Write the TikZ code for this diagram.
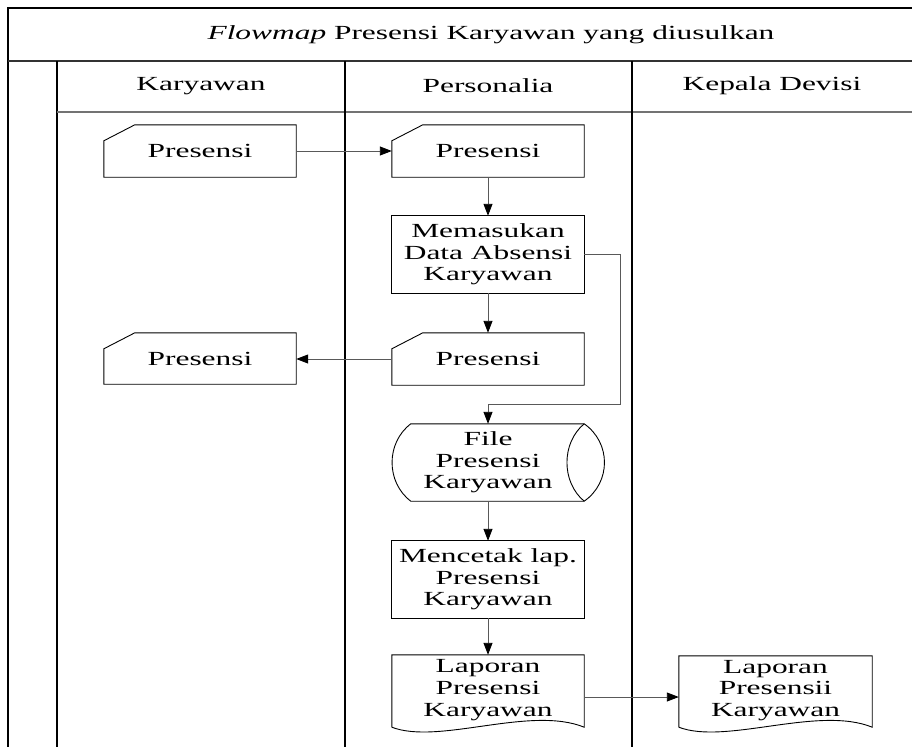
\documentclass[tikz,border=0pt]{standalone}
\usepackage{fontspec}
\setmainfont{Liberation Serif}[FakeStretch=1.57]
\usetikzlibrary{arrows.meta,calc}
\newcommand\lanefont{\fontsize{20}{21.7}\selectfont}
\begin{document}
\begin{tikzpicture}[x=1pt,y=-1pt,
  frame/.style={draw=black, line width=1.1pt},
  shp/.style={inner sep=0pt, minimum width=192pt, minimum height=52pt,
    align=center, font=\lanefont},
  outline/.style={draw=black, line width=0.9pt},
  conn/.style={draw=black!65, line width=0.9pt,
    -{Triangle[length=12pt,width=9pt,fill=black,color=black]}},
  lbl/.style={font=\lanefont, inner sep=0pt}]
\useasboundingbox (0,0) rectangle (912,747);

% swimlane frame
\draw[frame] (912,8) -- (8,8) -- (8,747);
\draw[draw=black!80, line width=2pt] (8,61) -- (912,61);
\draw[frame] (57,61) -- (57,747);
\draw[draw=black!55, line width=1.4pt] (57,112) -- (912,112);
\draw[frame] (345,61) -- (345,747);
\draw[frame] (632,61) -- (632,747);

\node[lbl] (title) at (491,35) {\textit{Flowmap} Presensi Karyawan yang diusulkan};
\node[lbl] (h1) at (201,86) {Karyawan};
\node[lbl] (h2) at (488,86) {Personalia};
\node[lbl] (h3) at (772,86) {Kepala Devisi};

% flow nodes
\node[shp] (k1) at (200,151) {Presensi};
\node[shp] (p1) at (488,151) {Presensi};
\node[shp, minimum height=77pt] (p2) at (488,254.5) {Memasukan\\Data Absensi\\Karyawan};
\node[shp, minimum height=51pt] (k2) at (200,358.5) {Presensi};
\node[shp] (p3) at (488,359) {Presensi};
\node[shp, minimum height=77pt] (disk) at (488,462.5) {File\\Presensi\\Karyawan};
\node[shp, minimum height=77pt] (p4) at (488,579.5) {Mencetak lap.\\Presensi\\Karyawan};
\node[shp, minimum height=70pt] (p5) at (488,690) {Laporan\\Presensi\\Karyawan};
\node[shp, minimum width=193pt, minimum height=69pt] (kd) at (775.5,690.5) {Laporan\\Presensii\\Karyawan};

% manual input outlines
\foreach \n in {k1,p1,k2,p3}{
  \draw[outline] (\n.south west) -- ($(\n.north west)+(0,16)$)
    -- ($(\n.north west)+(31,0)$) -- (\n.north east) -- (\n.south east) -- cycle;
}
% process outlines
\draw[outline] (p2.south west) rectangle (p2.north east);
\draw[outline] (p4.south west) rectangle (p4.north east);

% stored data outline
\draw[outline] ($(disk.north west)+(19,0)$) -- (disk.north east)
  .. controls ($(disk.north east)+(27,19)$) and ($(disk.south east)+(27,-19)$) .. (disk.south east)
  -- ($(disk.south west)+(19,0)$)
  .. controls ($(disk.south west)+(-6,-19)$) and ($(disk.north west)+(-6,19)$) .. ($(disk.north west)+(19,0)$);
\draw[outline] (disk.north east)
  .. controls ($(disk.north east)+(-23,19)$) and ($(disk.south east)+(-23,-19)$) .. (disk.south east);

% document outlines
\foreach \n in {p5,kd}{
  \draw[outline] ($(\n.south west)+(0,2)$) -- (\n.north west) -- (\n.north east) -- ($(\n.south east)+(0,2)$)
    .. controls ($(\n.south east)+(-54,-20)$) and ($(\n.south west)+(47,20)$) .. ($(\n.south west)+(0,2)$);
}

% connectors
\coordinate (bend) at (620,404);
\draw[conn] (k1.east) -- (p1.west);
\draw[conn] (p1.south) -- (p2.north);
\draw[conn] (p2.south) -- (p3.north);
\draw[conn] (p3.west) -- (p3.west -| k2.east);
\draw[conn] (p2.east) -| (bend) -| (disk.north);
\draw[conn] (disk.south) -- (p4.north);
\draw[conn] (p4.south) -- (p5.north);
\draw[conn] ($(p5.east)+(0,7)$) -- ($(p5.east -| kd.west)+(0,7)$);
\end{tikzpicture}
\end{document}
